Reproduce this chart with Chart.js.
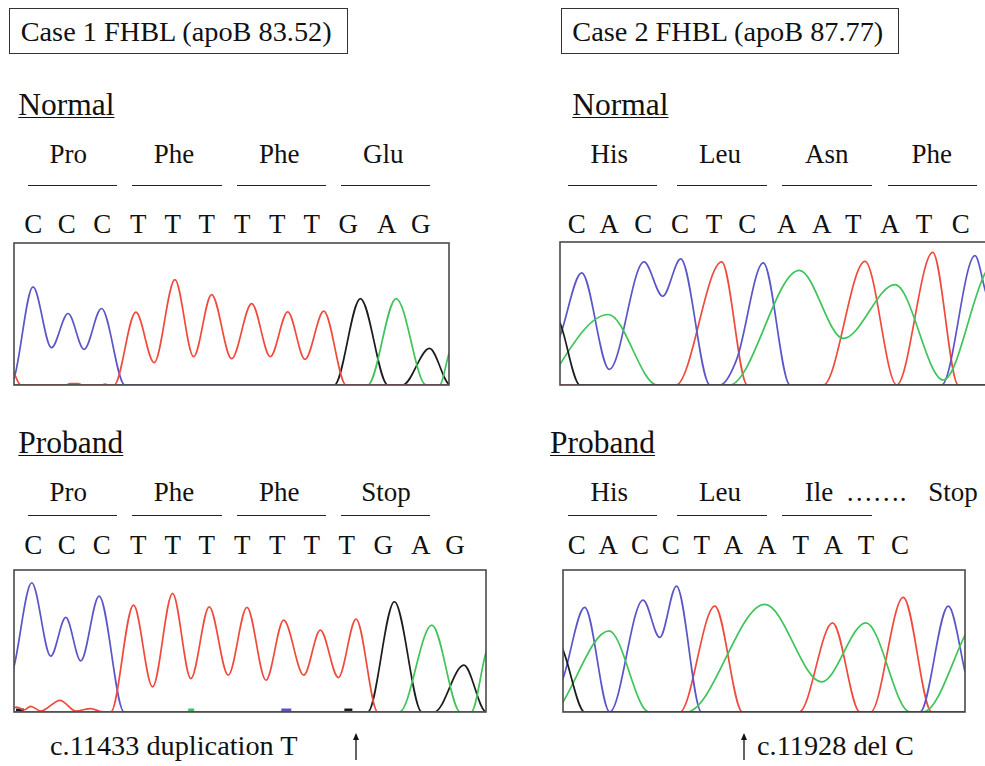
<!DOCTYPE html>
<html>
<head>
<meta charset="utf-8">
<script src="https://cdn.jsdelivr.net/npm/chart.js@4.4.0/dist/chart.umd.min.js"></script>
<style>
html,body{margin:0;padding:0;width:985px;height:766px;overflow:hidden;background:#fff;}
body{position:relative;color:#111;}
.t{position:absolute;white-space:nowrap;line-height:1;font-family:'Liberation Serif','Times New Roman',Tinos,'DejaVu Serif',serif;}
.u{text-decoration:underline;text-decoration-thickness:1.4px;text-underline-offset:2px;}
.box{position:absolute;border:1.3px solid #333;box-sizing:border-box;}
.ln{position:absolute;height:0;border-top:1.3px solid #222;}
canvas{position:absolute;}
</style>
</head>
<body>
<script>
// ---------- DATA ----------
// trace values: [scan position, signal height]
// Case 1 — Normal
const n1Blue  = [[-4,0],[0.7,9],[19,98.4],[37.4,37.4],[54,71.7],[70,35.7],[87.4,76.7],[110.7,0],[440,0]];
const n1Red   = [[-4,20],[0,12],[6.7,0],[52,0],[56,1.5],[64,1.5],[68,0],[88,0],[91,1],[94,0],[100,0],[121.7,73],[140,22.4],[160.7,105.7],[179.4,28.4],[197.4,90.7],[217.4,26.4],[237.4,81.7],[256,28.4],[273.4,73.4],[290.7,25.7],[309.4,74],[331.7,0],[440,0]];
const n1Black = [[0,0],[320,0],[346,86.7],[373.4,0],[388.3,0],[415,36.7],[436,0],[440,0]];
const n1Green = [[0,0],[353.4,0],[381.7,86.7],[411.7,0],[425,0],[434.7,32.4],[445,60]];
// Case 2 — Normal
const n2Blue  = [[-4,40],[0,49],[21.7,112.4],[49.3,15.7],[84,123.4],[102.7,89],[120.7,126.4],[150,0],[160,0],[176.7,25.7],[203.3,122.4],[230,0],[381.7,0],[415,129.7],[425,95.7],[445,20]];
const n2Red   = [[0,0],[116,0],[161.7,123.4],[187.3,0],[263.3,0],[305,124],[336.7,0],[372.7,133],[398.3,0],[445,0]];
const n2Green = [[-4,12],[0,20.7],[48.3,70.7],[97.3,0],[169.3,0],[239.3,115],[283.3,46.7],[335,100.7],[383.3,5],[425,112],[445,135]];
const n2Black = [[-5,70],[0,62.4],[20,0],[445,0]];
// Case 1 — Proband
const p1Blue  = [[-4,30],[0.7,48.4],[17.7,129],[36.7,55.7],[51.7,94.4],[66.7,51],[85,115.7],[110,0],[475,0]];
const p1Red   = [[0,4],[3,5],[10,2],[16.7,5.7],[26.7,1],[46,11.7],[61.7,1],[76.7,3.4],[86.7,0.5],[96.7,0],[119.4,106.7],[138.4,25],[158.4,118.4],[176.7,33.4],[195,105],[214,36.7],[232.7,104.4],[251.7,31.7],[269.4,91.7],[289.4,36.7],[306,81.7],[324,34.4],[341.7,92.7],[363.4,0],[475,0]];
const p1Black = [[0,0],[353.4,0],[380,110],[407.4,0],[420,0],[449.4,46.7],[471.7,0],[476,0]];
const p1Green = [[0,0],[385,0],[417.4,86.7],[446,0],[456.7,0],[470.7,56.7],[480,90]];
// small baseline blips in Case 1 — Proband
const p1BlipGreen = [[174,2],[180,2]];
const p1BlipBlue  = [[267,2],[277,2]];
const p1BlipBlack = [[330,2],[338,2]];
const p1BlipBlack2 = [[2,2],[10,2]];
// Case 2 — Proband
const p2Blue  = [[-4,25],[0,33.4],[21.7,104.4],[46.7,0],[80,111.7],[96.7,74.4],[113.4,125.7],[138.4,0],[356.7,0],[385,105.7],[401.7,40],[410,0]];
const p2Red   = [[0,0],[116.7,0],[151.7,105.7],[179.4,0],[236,0],[269.4,89],[296.7,0],[307.4,0],[340,114.4],[368.4,0],[405,0]];
const p2Green = [[-4,3],[0,10],[46,81],[86,0],[123.4,0],[201.7,107.4],[258.4,30],[302.7,89],[346.7,0],[360,0],[401.7,76.7],[410,95]];
const p2Black = [[-5,70],[0,61.7],[21.7,0],[405,0]];

// text content
const title1 = "Case 1 FHBL (apoB 83.52)";
const title2 = "Case 2 FHBL (apoB 87.77)";
const aaN1 = ["Pro","Phe","Phe","Glu"];
const aaP1 = ["Pro","Phe","Phe","Stop"];
const aaN2 = ["His","Leu","Asn","Phe"];
const aaP2 = ["His","Leu","Ile","…….","Stop"];
const seqN1 = ["C","C","C","T","T","T","T","T","T","G","A","G"];
const seqP1 = ["C","C","C","T","T","T","T","T","T","T","G","A","G"];
const seqN2 = ["C","A","C","C","T","C","A","A","T","A","T","C"];
const seqP2 = ["C","A","C","C","T","A","A","T","A","T","C"];
const note1 = "c.11433 duplication T";
const note2 = "c.11928 del C";

// ---------- LAYOUT ----------
const seqN1X = [33.3,66.7,102.3,138.3,172.7,206.7,242.3,277.3,311.7,348.3,386.7,420.7];
const seqP1X = [33.3,66.7,101.7,138.3,172.7,206.7,242.3,277.3,311.7,346.7,383.3,420.7,455];
const seqN2X = [576.7,609.3,643.3,680,714,747.3,786.7,821.7,853.3,890,924,960.7];
const seqP2X = [576.7,608.3,640,670.7,701.7,733.3,766.7,800.7,833.3,866,900];
const aaN1X = [68.3,174,279.3,383.3];
const aaP1X = [68.3,174,279.3,386];
const aaN2X = [609.3,720,826.7,931.7];
const aaP2X = [609.3,720,819,876,953];
const bars1 = [[27.7,116.7],[132.3,221.7],[236.7,326],[341,430]];
const barsN2 = [[568.3,657.3],[677.3,766.7],[782.3,871.7],[887.7,976.7]];
const barsP2 = [[568.3,657.3],[677.3,766.7],[782.3,871.7]];

const C = {blue:'#5a56c8', red:'#f04a3c', green:'#3fc45a', black:'#1c1c1c'};

function txt(s, x, base, size, center, cls){
  const d = document.createElement('div');
  d.className = 't' + (cls ? ' ' + cls : '');
  d.textContent = s;
  d.style.fontSize = size + 'px';
  d.style.left = x + 'px';
  d.style.top = (base - 0.8375*size) + 'px';
  if (center) d.style.transform = 'translateX(-50%)';
  document.body.appendChild(d);
}
function box(l,t,w,h){
  const d=document.createElement('div'); d.className='box';
  d.style.left=l+'px'; d.style.top=t+'px'; d.style.width=w+'px'; d.style.height=h+'px';
  document.body.appendChild(d);
}
function bar(x1,x2,y){
  const d=document.createElement('div'); d.className='ln';
  d.style.left=x1+'px'; d.style.width=(x2-x1)+'px'; d.style.top=y+'px';
  document.body.appendChild(d);
}
function arrow(x, y1, y2){
  const ns='http://www.w3.org/2000/svg';
  const s=document.createElementNS(ns,'svg');
  s.setAttribute('width','12'); s.setAttribute('height', String(y2-y1+2));
  s.style.position='absolute'; s.style.left=(x-6)+'px'; s.style.top=(y1-1)+'px';
  const l=document.createElementNS(ns,'line');
  l.setAttribute('x1','6'); l.setAttribute('x2','6'); l.setAttribute('y1','5'); l.setAttribute('y2',String(y2-y1+1));
  l.setAttribute('stroke','#111'); l.setAttribute('stroke-width','1.3');
  const p=document.createElementNS(ns,'path');
  p.setAttribute('d','M6 1 L9 8 L3 8 Z'); p.setAttribute('fill','#111');
  s.appendChild(l); s.appendChild(p); document.body.appendChild(s);
}

// headings
box(9,8,339,46); txt(title1, 20.7, 41.7, 28.3);
box(561,8,338,46); txt(title2, 572.3, 41.7, 28.3);
txt("Normal", 18.3, 115, 31.5, false, 'u');
txt("Normal", 572.3, 115, 31.5, false, 'u');
txt("Proband", 18.3, 453.3, 31.5, false, 'u');
txt("Proband", 550, 453.3, 31.5, false, 'u');

aaN1.forEach((s,i)=>txt(s, aaN1X[i], 163.3, 27, true));
aaN2.forEach((s,i)=>txt(s, aaN2X[i], 163.3, 27, true));
aaP1.forEach((s,i)=>txt(s, aaP1X[i], 501.7, 27, true));
aaP2.forEach((s,i)=>txt(s, aaP2X[i], 501.7, 27, true));
bars1.forEach(b=>bar(b[0],b[1],185.2));
barsN2.forEach(b=>bar(b[0],b[1],185.2));
bars1.forEach(b=>bar(b[0],b[1],514.5));
barsP2.forEach(b=>bar(b[0],b[1],514.5));
seqN1.forEach((s,i)=>txt(s, seqN1X[i], 234, 27, true));
seqN2.forEach((s,i)=>txt(s, seqN2X[i], 234, 27, true));
seqP1.forEach((s,i)=>txt(s, seqP1X[i], 555, 27, true));
seqP2.forEach((s,i)=>txt(s, seqP2X[i], 555, 27, true));

txt(note1, 50, 756, 28.3);
arrow(356, 733, 760);
arrow(743.5, 733, 760);
txt(note2, 757, 756, 28.3);

// ---------- CHARTS ----------
const frame = {
  id:'frame',
  afterDatasetsDraw(chart){
    const {ctx, chartArea:a} = chart;
    ctx.save();
    ctx.strokeStyle = '#4a4a4a';
    ctx.lineWidth = 1.6;
    ctx.strokeRect(a.left, a.top, a.right-a.left, a.bottom-a.top);
    ctx.restore();
  }
};
function pts(arr){ return arr.map(p=>({x:p[0], y:p[1]})); }
function panel(left, top, W, H, traces){
  const pad = 2;
  const c = document.createElement('canvas');
  c.width = Math.round(W + 2*pad); c.height = Math.round(H + 2*pad);
  c.style.left = (left - pad) + 'px'; c.style.top = (top - pad) + 'px';
  document.body.appendChild(c);
  new Chart(c, {
    type:'line',
    data:{datasets: traces.map(t=>({
      data: pts(t[0]), borderColor: t[1], borderWidth: t[2] || 1.7,
      pointRadius:0, fill:false, cubicInterpolationMode:'monotone'
    }))},
    options:{
      responsive:false, animation:false, events:[],
      layout:{padding:pad},
      plugins:{legend:{display:false}, tooltip:{enabled:false}},
      scales:{
        x:{type:'linear', min:0, max:W, display:false},
        y:{type:'linear', min:0, max:H, display:false}
      }
    },
    plugins:[frame]
  });
}

panel(13.5, 243.3, 434.5, 142.4, [
  [n1Red, C.red], [n1Blue, C.blue], [n1Green, C.green], [n1Black, C.black]
]);
panel(560, 242.3, 440, 143.4, [
  [n2Black, C.black], [n2Green, C.green], [n2Blue, C.blue], [n2Red, C.red]
]);
panel(13.5, 570, 471.5, 141.7, [
  [p1Red, C.red], [p1Blue, C.blue], [p1Green, C.green], [p1Black, C.black],
  [p1BlipGreen, C.green, 3], [p1BlipBlue, C.blue, 3], [p1BlipBlack, C.black, 3], [p1BlipBlack2, C.black, 3]
]);
panel(563.3, 570, 401.7, 141.7, [
  [p2Black, C.black], [p2Green, C.green], [p2Blue, C.blue], [p2Red, C.red]
]);
</script>
</body>
</html>
